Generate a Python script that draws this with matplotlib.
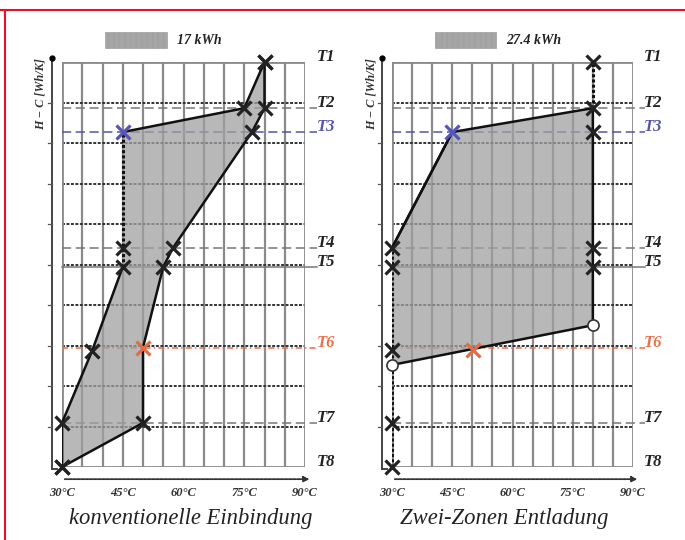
import matplotlib.pyplot as plt
from matplotlib.patches import Rectangle, Polygon
import numpy as np

# temperature levels T1..T8 on the H-C axis (grid units)
t_names = ['T1', 'T2', 'T3', 'T4', 'T5', 'T6', 'T7', 'T8']
t_levels = [10.0, 8.86, 8.27, 5.41, 4.94, 2.95, 1.09, 0.0]
t_colors = ['black', 'black', '#5555aa', 'black', 'black', '#e8704a', 'black', 'black']
t_styles = ['-', (0, (6, 3)), (0, (6, 3)), (0, (6, 3)), '-', (0, (4, 2, 1, 2)), (0, (6, 3)), '-']

x_ticks = [30, 45, 60, 75, 90]
x_ticklabels = ['30°C', '45°C', '60°C', '75°C', '90°C']

# konventionelle Einbindung
left_a_x = [30, 30, 37.4, 45, 45, 45, 75, 80]
left_a_y = [0, 1.09, 2.86, 4.94, 5.41, 8.27, 8.86, 10]
left_b_x = [30, 50, 50, 55, 57.4, 76.9, 80, 80]
left_b_y = [0, 1.09, 2.95, 4.94, 5.41, 8.27, 8.86, 10]
left_energy = '17 kWh'

# Zwei-Zonen Entladung
right_poly_x = [30, 45, 80, 80, 30]
right_poly_y = [5.41, 8.27, 8.86, 3.5, 2.52]
right_x_marks_x = [80, 80, 80, 80, 80, 30, 30, 30, 30, 30]
right_x_marks_y = [10, 8.86, 8.27, 5.41, 4.94, 5.41, 4.94, 2.9, 1.09, 0]
right_circ_x = [80, 30]
right_circ_y = [3.5, 2.52]
right_blue = (45, 8.27)
right_orange = (50.2, 2.9)
right_energy = '27.4 kWh'

serif = ['Liberation Serif', 'DejaVu Serif']

fig = plt.figure(figsize=(6.85, 5.4), dpi=100)
fig.patch.set_facecolor('white')


def draw_panel(ax, energy, title, title_x, ylab_x):
    ax.set_xlim(30, 90)
    ax.set_ylim(0, 10)
    ax.axis('off')
    # grid
    for xv in np.arange(35, 90, 5):
        ax.plot([xv, xv], [0, 10], color='#8a8a8a', lw=1.6, zorder=1)
    for yv in range(1, 10):
        ax.plot([30, 90], [yv, yv], color='#333333', lw=1.4, ls=(0, (1.5, 0.8)), zorder=1)
    ax.add_patch(Rectangle((30, 0), 60, 10, fill=False, ec='#8a8a8a', lw=2, zorder=1))
    # temperature lines and labels
    for name, lv, c, st in zip(t_names, t_levels, t_colors, t_styles):
        if 0 < lv < 10:
            ax.plot([30, 93], [lv, lv], color='#777777' if c == 'black' else c,
                    lw=1.1, ls=st, zorder=2, clip_on=False)
        ax.text(92.8, lv + 0.12, name, fontsize=12, fontweight='bold', style='italic',
                family=serif, color='#222222' if c == 'black' else c, ha='left', va='center')
    # y axis with arrow
    ax.plot([27.5, 27.5], [-0.05, 10.1], color='#444444', lw=1.4, clip_on=False)
    ax.plot([27.5], [10.1], marker='o', ms=3.5, color='black', clip_on=False)
    for yv in range(1, 10):
        ax.plot([26.6, 27.5], [yv, yv], color='#555555', lw=0.9, clip_on=False)
    ax.plot([27.5, 28.8], [-0.05, -0.05], color='#444444', lw=1.4, clip_on=False)
    ax.text(ylab_x, 9.2, 'H − C [Wh/K]', rotation=90, fontsize=8.8, fontweight='bold',
            style='italic', family=serif, ha='center', va='center', color='#333333')
    # x axis with arrow
    ax.annotate('', xy=(91.8, -0.3), xytext=(30, -0.3),
                arrowprops=dict(arrowstyle='-|>', color='#333333', lw=1.3,
                                mutation_scale=8, linestyle=(0, (1.5, 0.8))),
                annotation_clip=False)
    for xt, lb in zip(x_ticks, x_ticklabels):
        ax.text(xt, -0.63, lb, fontsize=9, fontweight='bold', style='italic', family=serif,
                ha='center', va='center', color='#333333')
    ax.text(title_x, -1.28, title, fontsize=16.3, style='italic', family=serif,
            ha='center', va='center', color='#222222')
    # header legend
    ax.add_patch(Rectangle((40.6, 10.35), 15.4, 0.4, fc='#a6a6a6', ec='#a0a0a0',
                           hatch='|||', lw=0.5, clip_on=False))
    ax.text(58.4, 10.54, energy, fontsize=10, fontweight='bold', style='italic',
            family=serif, ha='left', va='center', color='#222222')


mk = dict(marker='x', ms=10, mew=2.3, ls='none', zorder=6, clip_on=False)

# left panel
ax1 = fig.add_axes([62 / 685, 73 / 540, 243 / 685, 405 / 540])
draw_panel(ax1, left_energy, 'konventionelle Einbindung', 61.8, 24.6)
poly = list(zip(left_a_x, left_a_y)) + list(zip(left_b_x, left_b_y))[::-1]
ax1.add_patch(Polygon(poly, closed=True, fc='#a0a0a0', ec='none', alpha=0.75, zorder=3))
ax1.plot(left_a_x[:4], left_a_y[:4], color='#111111', lw=1.8, zorder=5)
ax1.plot(left_a_x[3:6], left_a_y[3:6], color='#111111', lw=2.2, ls=(0, (1, 0.7)), zorder=5)
ax1.plot(left_a_x[5:], left_a_y[5:], color='#111111', lw=1.8, zorder=5)
ax1.plot(left_b_x, left_b_y, color='#111111', lw=1.8, zorder=5)
bx = [x for x, y in zip(left_a_x + left_b_x, left_a_y + left_b_y)
      if not (x == 45 and y == 8.27) and not (x == 50 and y == 2.95)]
by = [y for x, y in zip(left_a_x + left_b_x, left_a_y + left_b_y)
      if not (x == 45 and y == 8.27) and not (x == 50 and y == 2.95)]
ax1.plot(bx, by, color='#222222', **mk)
ax1.plot([45], [8.27], color='#5555bb', **mk)
ax1.plot([50], [2.95], color='#e86a40', **mk)

# right panel
ax2 = fig.add_axes([392 / 685, 73 / 540, 241 / 685, 405 / 540])
draw_panel(ax2, right_energy, 'Zwei-Zonen Entladung', 57.9, 25.0)
ax2.add_patch(Polygon(list(zip(right_poly_x, right_poly_y)), closed=True,
                      fc='#a0a0a0', ec='none', alpha=0.75, zorder=3))
ax2.plot(right_poly_x[:4] + [right_poly_x[4]], right_poly_y[:4] + [right_poly_y[4]],
         color='#111111', lw=1.8, zorder=5)
ax2.plot([30, 30], [0, 5.41], color='#111111', lw=2.2, ls=(0, (1, 0.7)), zorder=5)
ax2.plot([30, 45], [5.41, 8.27], color='#111111', lw=1.8, zorder=5)
ax2.plot([80, 80], [8.86, 10], color='#111111', lw=2.2, ls=(0, (1, 0.7)), zorder=5)
ax2.plot(right_x_marks_x, right_x_marks_y, color='#222222', **mk)
ax2.plot([right_blue[0]], [right_blue[1]], color='#5555bb', **mk)
ax2.plot([right_orange[0]], [right_orange[1]], color='#e86a40', **mk)
ax2.plot(right_circ_x, right_circ_y, marker='o', ms=8, mfc='white', mec='#333333',
         mew=1.2, ls='none', zorder=7, clip_on=False)

# cropped right edge and red frame
fig.patches.append(Rectangle((663 / 685, 0), 22 / 685, 1 - 14 / 540, transform=fig.transFigure,
                             fc='white', ec='none', zorder=20))
fig.lines.append(plt.Line2D([0, 1], [1 - 10 / 540] * 2, transform=fig.transFigure,
                            color='#e8102a', lw=1.5, zorder=21))
fig.lines.append(plt.Line2D([5 / 685] * 2, [0, 1 - 10 / 540], transform=fig.transFigure,
                            color='#e8102a', lw=1.5, zorder=21))

fig.savefig('out.png', dpi=100)
